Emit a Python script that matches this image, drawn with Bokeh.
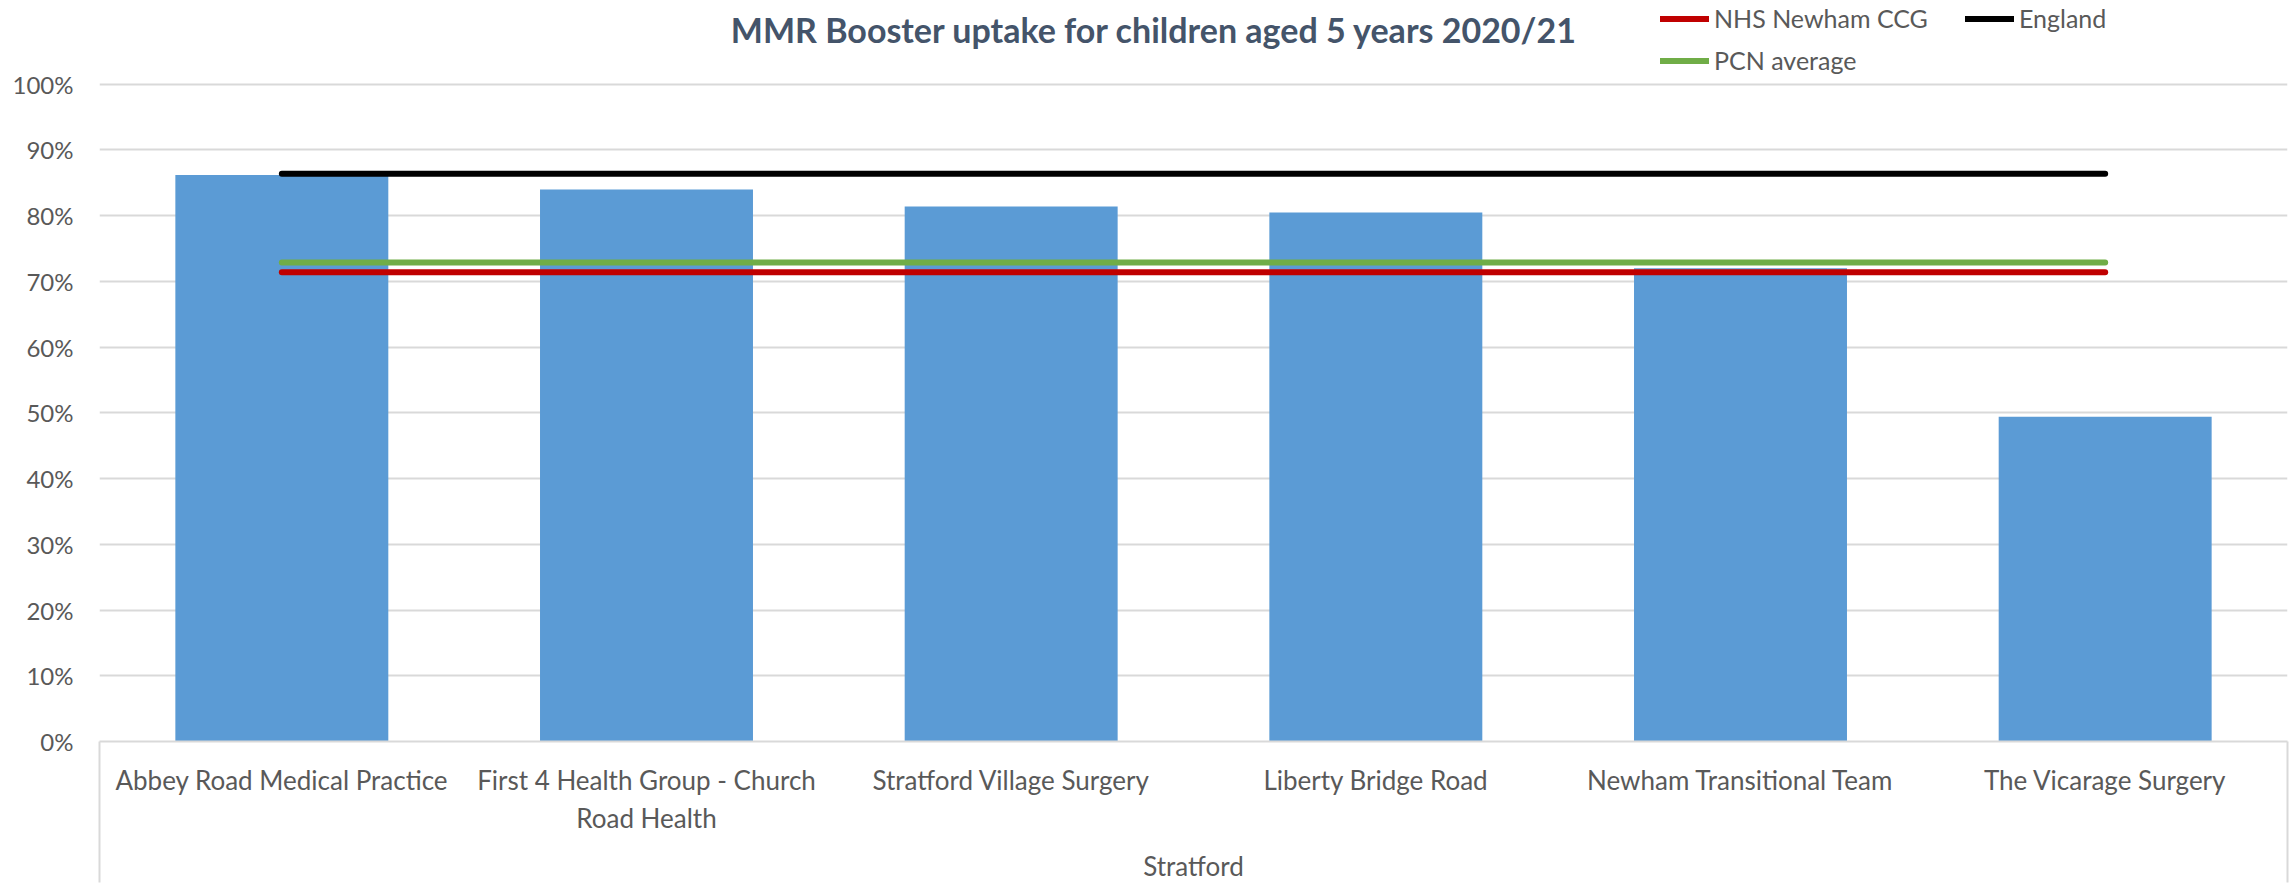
from bokeh.plotting import figure
from bokeh.models import (Range1d, FixedTicker, NumeralTickFormatter, Legend, LegendItem, Label)
from bokeh.embed import file_html
from bokeh.resources import INLINE

# ---- data ----
practices = [
    "Abbey Road Medical Practice",
    "First 4 Health Group - Church\nRoad Health",
    "Stratford Village Surgery",
    "Liberty Bridge Road",
    "Newham Transitional Team",
    "The Vicarage Surgery",
]
uptake = [0.862, 0.840, 0.814, 0.805, 0.720, 0.494]
ccg_value = 0.714      # NHS Newham CCG
england_value = 0.864  # England
pcn_value = 0.729      # PCN average
group_label = "Stratford"
title_text = "MMR Booster uptake for children aged 5 years 2020/21"
y_ticks = [0, 0.1, 0.2, 0.3, 0.4, 0.5, 0.6, 0.7, 0.8, 0.9, 1.0]

FONT = "Lato"
GREY_TXT = "#595959"
GRID = "#D9D9D9"

n = len(practices)
centers = [i + 0.5 for i in range(n)]

W, H = 2295, 884
LEFT, RIGHT, BOTTOM = 99, 8, 141
frame_h = H - BOTTOM
# room above 100% for title & legend (inside the frame)
y_top = 1.0 + 84 / (frame_h - 84)

p = figure(
    x_range=Range1d(0, n),
    y_range=Range1d(0, y_top),
    width=W, height=H,
    output_backend="svg", toolbar_location=None,
    min_border_left=LEFT, min_border_right=RIGHT, min_border_top=0, min_border_bottom=BOTTOM,
)
p.outline_line_color = None
p.background_fill_color = "white"
p.border_fill_color = "white"

# grid
p.xgrid.grid_line_color = None
p.ygrid.grid_line_color = GRID
p.ygrid.grid_line_width = 2

# y axis
p.yaxis.ticker = FixedTicker(ticks=y_ticks)
p.yaxis.formatter = NumeralTickFormatter(format="0%")
p.yaxis.axis_line_color = None
p.yaxis.major_tick_line_color = None
p.yaxis.minor_tick_line_color = None
p.yaxis.major_tick_out = 0
p.yaxis.major_label_standoff = 26
p.yaxis.major_label_text_font = FONT
p.yaxis.major_label_text_font_size = "24px"
p.yaxis.major_label_text_color = GREY_TXT

# x axis: category labels at centres, outer box edges as long minor ticks
TICK_LEN = 141
p.xaxis.ticker = FixedTicker(ticks=centers, minor_ticks=[0, n])
p.xaxis.major_label_overrides = {c: name for c, name in zip(centers, practices)}
p.xaxis.axis_line_color = GRID
p.xaxis.axis_line_width = 2
p.xaxis.major_tick_line_color = None
p.xaxis.major_tick_out = 0
p.xaxis.major_tick_in = 0
p.xaxis.minor_tick_line_color = GRID
p.xaxis.minor_tick_line_width = 2
p.xaxis.minor_tick_out = TICK_LEN
p.xaxis.minor_tick_in = 0
p.xaxis.major_label_standoff = 22 - TICK_LEN
p.xaxis.major_label_text_font = FONT
p.xaxis.major_label_text_font_size = "26px"
p.xaxis.major_label_text_color = GREY_TXT
p.xaxis.major_label_text_line_height = 1.2
p.xaxis.axis_label = group_label
p.xaxis.axis_label_standoff = 13
p.xaxis.axis_label_text_font = FONT
p.xaxis.axis_label_text_font_size = "26px"
p.xaxis.axis_label_text_font_style = "normal"
p.xaxis.axis_label_text_color = GREY_TXT

# bars
p.vbar(x=centers, top=uptake, width=0.584, color="#5B9BD5", line_color=None)

# reference lines (first to last practice)
x_span = [centers[0], centers[-1]]
r_ccg = p.line(x_span, [ccg_value, ccg_value], line_color="#C00000", line_width=6, line_cap="round")
r_eng = p.line(x_span, [england_value, england_value], line_color="#000000", line_width=6, line_cap="round")
r_pcn = p.line(x_span, [pcn_value, pcn_value], line_color="#70AD47", line_width=6, line_cap="round")

# legends
def make_legend(label, renderer, loc):
    lg = Legend(items=[LegendItem(label=label, renderers=[renderer])],
                location=loc, orientation="horizontal",
                border_line_color=None, background_fill_alpha=0,
                padding=0, margin=0, spacing=0,
                glyph_width=49, glyph_height=29, label_height=29, label_standoff=5,
                label_text_font=FONT, label_text_font_size="25px", label_text_color=GREY_TXT)
    p.add_layout(lg, "center")

make_legend("NHS Newham CCG", r_ccg, (1561, 708))
make_legend("England", r_eng, (1866, 708))
make_legend("PCN average", r_pcn, (1561, 666))

# title
p.add_layout(Label(x=2.893, y=1.0835, text=title_text, text_align="center",
                   text_baseline="alphabetic", text_font=FONT, text_font_style="bold",
                   text_font_size="34px", text_color="#44546A"))

open("out.html", "w").write(file_html(p, INLINE))
